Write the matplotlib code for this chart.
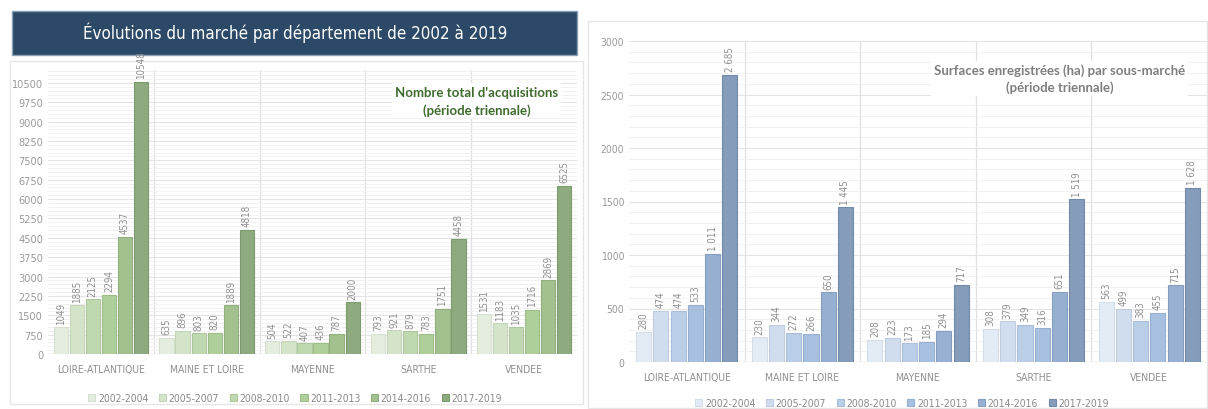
import matplotlib
matplotlib.use("Agg")
import matplotlib.pyplot as plt
import numpy as np
from matplotlib.patches import Rectangle
from matplotlib.ticker import MultipleLocator
from matplotlib import font_manager as fm

departements = ["LOIRE-ATLANTIQUE", "MAINE ET LOIRE", "MAYENNE", "SARTHE", "VENDEE"]
periodes = ["2002-2004", "2005-2007", "2008-2010", "2011-2013", "2014-2016", "2017-2019"]

# Nombre total d'acquisitions : one list per period, values per departement
acq_2002_2004 = [1049, 635, 504, 793, 1531]
acq_2005_2007 = [1885, 896, 522, 921, 1183]
acq_2008_2010 = [2125, 803, 407, 879, 1035]
acq_2011_2013 = [2294, 820, 436, 783, 1716]
acq_2014_2016 = [4537, 1889, 787, 1751, 2869]
acq_2017_2019 = [10548, 4818, 2000, 4458, 6525]

# Surfaces enregistrées (ha)
surf_2002_2004 = [280, 230, 208, 308, 563]
surf_2005_2007 = [474, 344, 223, 379, 499]
surf_2008_2010 = [474, 272, 173, 349, 383]
surf_2011_2013 = [533, 266, 185, 316, 455]
surf_2014_2016 = [1011, 650, 294, 651, 715]
surf_2017_2019 = [2685, 1445, 717, 1519, 1628]

acq = [acq_2002_2004, acq_2005_2007, acq_2008_2010, acq_2011_2013, acq_2014_2016, acq_2017_2019]
surf = [surf_2002_2004, surf_2005_2007, surf_2008_2010, surf_2011_2013, surf_2014_2016, surf_2017_2019]

greens = ["#e4edde", "#d3e4c9", "#bfd8b0", "#aecf9a", "#a2c18e", "#8dab7e"]
green_edges = ["#d6dfd0", "#c4d5ba", "#aec79f", "#9dbe89", "#91b07e", "#7c9a6e"]
blues = ["#e3ebf5", "#cfddef", "#bacee7", "#a8c0e0", "#97afd1", "#859cbb"]
blue_edges = ["#d3dce8", "#bfcde1", "#a9bed8", "#96afd0", "#869fc0", "#7389a8"]

# use a condensed face if one is installed
cond = [f.name for f in fm.fontManager.ttflist if "ondensed" in f.fname]
NARROW = ["DejaVu Sans"]
STRETCH = "condensed" if any("DejaVu" in n for n in cond) else "normal"
LABEL_C = "#909090"

fig = plt.figure(figsize=(12.08, 4.10), dpi=100)
W, H = 1208, 410

def fx(px):
    return px / W

def fy(py):
    return 1 - py / H

# panel frames
fig.patches.append(Rectangle((fx(10), fy(405)), fx(573), (405 - 62) / H, transform=fig.transFigure,
                             facecolor="white", edgecolor="#e6e6e6", lw=1, zorder=-10))
fig.patches.append(Rectangle((fx(588), fy(409)), fx(619), (409 - 22) / H, transform=fig.transFigure,
                             facecolor="white", edgecolor="#e6e6e6", lw=1, zorder=-10))
# title banner
fig.patches.append(Rectangle((fx(12), fy(56)), fx(565), 44 / H, transform=fig.transFigure,
                             facecolor="#2c4a68", edgecolor="#8aa0b5", lw=1, zorder=-5))
fig.text(fx(295), fy(33), "Évolutions du marché par département de 2002 à 2019", color="white",
         fontsize=12.2, ha="center", va="center", family="DejaVu Sans", fontstretch=STRETCH)


def draw(ax, data, colors, edges, ymax, major, minor, fmt, slot, bw, labsize):
    n = len(departements)
    x = np.arange(n)
    for i, vals in enumerate(data):
        off = (i - 2.5) * slot
        ax.bar(x + off, vals, width=bw, color=colors[i], edgecolor=edges[i], lw=0.8,
               zorder=3, label=periodes[i])
        for xb, v in zip(x + off, vals):
            ax.text(xb, v + ymax * 0.012, fmt(v), rotation=90, ha="center", va="bottom",
                    fontsize=labsize, color=LABEL_C, family=NARROW, fontstretch=STRETCH, zorder=4)
    ax.set_xlim(-0.5, n - 0.5)
    ax.set_ylim(0, ymax)
    ax.yaxis.set_major_locator(MultipleLocator(major))
    ax.yaxis.set_minor_locator(MultipleLocator(minor))
    ax.grid(axis="y", which="major", color="#e4e4e4", lw=0.8, zorder=0)
    ax.grid(axis="y", which="minor", color="#f0f0f0", lw=0.6, zorder=0)
    for s in np.arange(0.5, n - 0.5, 1):
        ax.axvline(s, color="#e0e0e0", lw=0.9, zorder=1)
    for sp in ax.spines.values():
        sp.set_visible(False)
    ax.axhline(0, color="#dcdcdc", lw=0.9, zorder=2)
    ax.set_xticks(x)
    ax.set_xticklabels(departements, color=LABEL_C, fontsize=7.5, family=NARROW,
                       fontstretch=STRETCH)
    ax.tick_params(axis="both", which="both", length=0)
    ax.tick_params(axis="x", pad=7)
    ax.patch.set_alpha(0)


def style_yticks(ax, size):
    for t in ax.get_yticklabels():
        t.set_color("#9a9a9a")
        t.set_fontsize(size)
        t.set_family(NARROW)
        t.set_fontstretch(STRETCH)


# left chart
axL = fig.add_axes([fx(48), fy(355), fx(529), (355 - 71) / H])
draw(axL, acq, greens, green_edges, 11000, 750, 150, lambda v: f"{v}", 0.152, 0.135, 7)
axL.set_yticks(np.arange(0, 10501, 750))
style_yticks(axL, 7.8)
axL.text(0.81, 0.945, "Nombre total d'acquisitions\n(période triennale)", transform=axL.transAxes,
         ha="center", va="top", fontsize=9.5, fontweight="bold", color="#3f6b2f", family="Lato",
         linespacing=1.5, zorder=6, bbox=dict(facecolor="white", edgecolor="none", pad=2))
hL, lL = axL.get_legend_handles_labels()
fig.legend(hL, lL, loc="center", bbox_to_anchor=(fx(295), fy(399)), ncol=6, frameon=False,
           handlelength=0.7, handleheight=0.7, handletextpad=0.25, columnspacing=1.0,
           labelcolor="#8a8a8a", prop={"family": NARROW, "size": 7.5, "stretch": STRETCH})

# right chart
axR = fig.add_axes([fx(629), fy(363), fx(578), (363 - 42) / H])
draw(axR, surf, blues, blue_edges, 3000, 500, 100,
     lambda v: f"{v:,}".replace(",", " "), 0.149, 0.13, 7)
style_yticks(axR, 7.5)
axR.text(0.745, 0.93, "Surfaces enregistrées (ha) par sous-marché\n(période triennale)",
         transform=axR.transAxes, ha="center", va="top", fontsize=9.5, fontweight="bold",
         color="#7f7f7f", family="Lato", linespacing=1.4, zorder=6,
         bbox=dict(facecolor="white", edgecolor="none", pad=2))
hR, lR = axR.get_legend_handles_labels()
fig.legend(hR, lR, loc="center", bbox_to_anchor=(fx(902), fy(404)), ncol=6, frameon=False,
           handlelength=0.7, handleheight=0.7, handletextpad=0.25, columnspacing=1.0,
           labelcolor="#8a8a8a", prop={"family": NARROW, "size": 7.5, "stretch": STRETCH})

fig.savefig("out.png", dpi=100)
